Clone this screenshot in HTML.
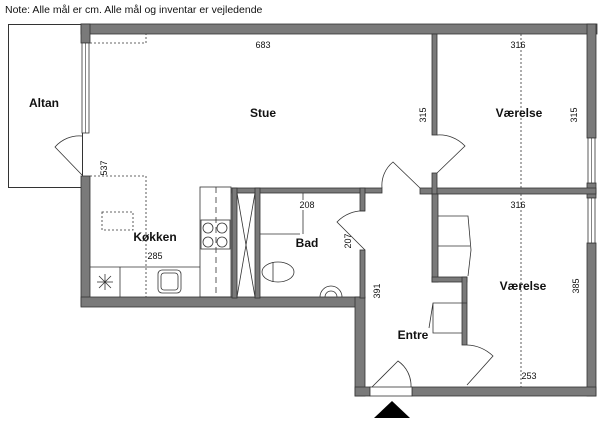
<!DOCTYPE html>
<html><head><meta charset="utf-8"><style>
html,body{margin:0;padding:0;background:#fff;width:600px;height:422px;overflow:hidden}
text{font-family:"Liberation Sans",sans-serif;fill:#111}
.l{font-size:12px;font-weight:bold}
.d{font-size:9px}
</style></head><body>
<svg width="600" height="422" viewBox="0 0 600 422" xmlns="http://www.w3.org/2000/svg">
<text x="5" y="13" font-size="10.5" style="font-family:'Liberation Sans',sans-serif">Note: Alle mål er cm. Alle mål og inventar er vejledende</text>
<!-- Altan -->
<rect x="8.5" y="24.5" width="74" height="163" fill="none" stroke="#333" stroke-width="1"/>
<g fill="#7a7a7a" stroke="#333" stroke-width="0.8">
<!-- top wall -->
<rect x="81" y="24" width="516" height="10"/>
<!-- left wall -->
<rect x="81" y="176" width="9" height="130"/>
<rect x="81" y="24" width="9" height="19"/>
<!-- right wall -->
<rect x="587" y="24" width="9" height="114"/>
<rect x="587" y="183" width="9" height="15"/>
<rect x="587" y="243" width="9" height="153"/>
<!-- kitchen bottom wall -->
<rect x="81" y="297" width="282" height="10"/>
<rect x="355" y="297" width="10" height="99"/>
<!-- bottom wall -->
<rect x="355" y="387" width="15" height="9"/>
<rect x="412" y="387" width="184" height="9"/>
<!-- bad top wall -->
<rect x="232" y="188" width="150" height="5"/>
<!-- shower walls -->
<rect x="232" y="188" width="5" height="110"/>
<rect x="255" y="188" width="5" height="110"/>
<!-- bad right wall -->
<rect x="360" y="188" width="5" height="23"/>
<rect x="360" y="250" width="5" height="48"/>
<!-- horizontal mid wall -->
<rect x="420" y="188" width="176" height="6"/>
<!-- Stue/Værelse wall -->
<rect x="432" y="34" width="5" height="101"/>
<rect x="432" y="173" width="5" height="21"/>
<!-- lower Værelse left wall -->
<rect x="432" y="194" width="6" height="88"/>
<rect x="432" y="277" width="35" height="5"/>
<rect x="462" y="277" width="5" height="68"/>
</g>
<!-- windows -->
<g fill="#fff" stroke="#333" stroke-width="0.8">
<rect x="82" y="43" width="7" height="90"/>
<rect x="588" y="138" width="7" height="45"/>
<rect x="588" y="198" width="7" height="45"/>
<rect x="370" y="387" width="42" height="9"/>
</g>
<g stroke="#333" stroke-width="0.6" fill="none">
<line x1="85.5" y1="43" x2="85.5" y2="133"/>
<line x1="591.5" y1="138" x2="591.5" y2="183"/>
<line x1="591.5" y1="198" x2="591.5" y2="243"/>
</g>
<!-- doors -->
<g stroke="#333" stroke-width="0.8" fill="none">
<path d="M82 175 L55 147 A32 32 0 0 1 82 136"/>
<path d="M437 173 L465 146 A35 35 0 0 0 437 135"/>
<path d="M420 188 L393 162 A30 30 0 0 0 382 188"/>
<path d="M365 250 L337 222 A35 35 0 0 1 365 211"/>
<path d="M467 385 L493 356 A40 40 0 0 0 467 345"/>
<path d="M372 387 L398 361 A30 30 0 0 1 411 387"/>
</g>
<!-- entrance triangle -->
<polygon points="374,418 392,401 410,418" fill="#000"/>
<!-- kitchen -->
<g stroke="#333" stroke-width="0.8" fill="none">
<rect x="200" y="187" width="31" height="110"/>
<line x1="90" y1="267" x2="200" y2="267"/>
<line x1="120" y1="267" x2="120" y2="297"/>
<line x1="216" y1="187" x2="216" y2="297" stroke-dasharray="6,4"/>
<rect x="201" y="220" width="29" height="29"/>
<circle cx="208" cy="228" r="5"/><circle cx="222" cy="228" r="5"/>
<circle cx="208" cy="242" r="5"/><circle cx="222" cy="242" r="5"/>
<rect x="158" y="270" width="23" height="23" rx="4"/>
<rect x="161" y="273" width="17" height="17" rx="3"/>
<line x1="97" y1="282" x2="113" y2="282"/><line x1="105" y1="274" x2="105" y2="290"/>
<line x1="99" y1="276" x2="111" y2="288"/><line x1="111" y1="276" x2="99" y2="288"/>
<!-- shower -->
<line x1="237" y1="193" x2="255" y2="297"/><line x1="255" y1="193" x2="237" y2="297"/>
<!-- bad -->
<line x1="260" y1="234" x2="300" y2="234"/>
<line x1="303" y1="193" x2="303" y2="200"/>
<line x1="303" y1="210" x2="303" y2="234"/>
<ellipse cx="278" cy="272" rx="16" ry="10"/>
<line x1="273" y1="262" x2="273" y2="282"/>
<path d="M320 297 A11 11 0 0 1 342 297"/>
<path d="M325 297 A6 6 0 0 1 337 297"/>
<!-- Værelse wardrobes -->
<path d="M438 216 L468 216 L471 250 L468 276 M438 246 L470 246"/>
<path d="M467 303 L433 303 L429 328 M433 303 L433 333 L462 333"/>
</g>
<!-- dotted dims -->
<g stroke="#333" stroke-width="0.8" fill="none" stroke-dasharray="2,2">
<path d="M90 43 L146 43 L146 34"/>
<path d="M90 176 L146 176 L146 297"/>
<rect x="102" y="212" width="31" height="18"/>
<line x1="521" y1="34" x2="521" y2="188"/>
<line x1="521" y1="194" x2="521" y2="387"/>
</g>
<!-- labels -->
<text class="l" x="44" y="107" text-anchor="middle">Altan</text>
<text class="l" x="263" y="117" text-anchor="middle">Stue</text>
<text class="l" x="519" y="117" text-anchor="middle">Værelse</text>
<text class="l" x="155" y="241" text-anchor="middle">Køkken</text>
<text class="l" x="307" y="247" text-anchor="middle">Bad</text>
<text class="l" x="523" y="290" text-anchor="middle">Værelse</text>
<text class="l" x="413" y="339" text-anchor="middle">Entre</text>
<text class="d" x="263" y="48" text-anchor="middle">683</text>
<text class="d" x="518" y="48" text-anchor="middle">316</text>
<text class="d" x="518" y="208" text-anchor="middle">316</text>
<text class="d" x="307" y="208" text-anchor="middle">208</text>
<text class="d" x="155" y="259" text-anchor="middle">285</text>
<text class="d" x="529" y="379" text-anchor="middle">253</text>
<text class="d" transform="translate(426,115) rotate(-90)" text-anchor="middle">315</text>
<text class="d" transform="translate(577,115) rotate(-90)" text-anchor="middle">315</text>
<text class="d" transform="translate(107,168) rotate(-90)" text-anchor="middle">537</text>
<text class="d" transform="translate(351,241) rotate(-90)" text-anchor="middle">207</text>
<text class="d" transform="translate(380,291) rotate(-90)" text-anchor="middle">391</text>
<text class="d" transform="translate(579,286) rotate(-90)" text-anchor="middle">385</text>
</svg>
</body></html>
